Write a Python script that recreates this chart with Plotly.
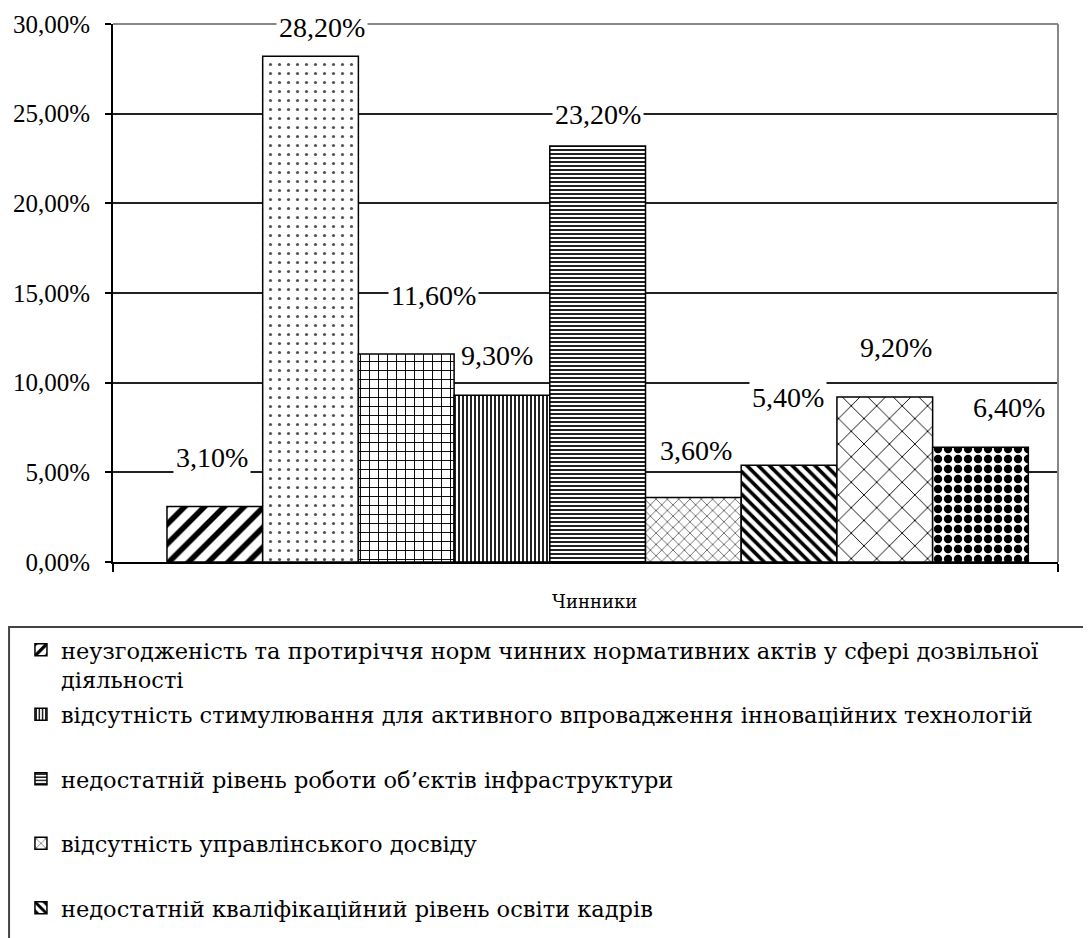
import plotly.graph_objects as go

# ---- data ----
values = [3.1, 28.2, 11.6, 9.3, 23.2, 3.6, 5.4, 9.2, 6.4]
names = [
    "неузгодженість та протиріччя норм чинних нормативних актів у сфері дозвільної<br>діяльності",
    "",
    "",
    "відсутність стимулювання для активного впровадження інноваційних технологій",
    "недостатній рівень роботи об’єктів інфраструктури",
    "відсутність управлінського досвіду",
    "недостатній кваліфікаційний рівень освіти кадрів",
    "",
    "",
]
in_legend = [True, False, False, True, True, True, True, False, False]
y_ticks = [0, 5, 10, 15, 20, 25, 30]
x_title = "Чинники"

# ---- styles ----
patterns = [
    dict(shape="/", size=14, solidity=0.4, fgcolor="black"),
    dict(shape=".", size=9, solidity=0.1, fgcolor="#555"),
    dict(shape="+", size=9, solidity=0.2, fgcolor="black"),
    dict(shape="|", size=4, solidity=0.5, fgcolor="#222"),
    dict(shape="-", size=4, solidity=0.5, fgcolor="#222"),
    dict(shape="x", size=8, solidity=0.15, fgcolor="#222"),
    dict(shape="\\", size=8, solidity=0.45, fgcolor="black"),
    dict(shape="x", size=18, solidity=0.1, fgcolor="black"),
    dict(shape=".", size=10, solidity=0.55, fgcolor="black"),
]
label_yshift = [49, 29, 58, 40, 31, 47, 68, 50, 40]
label_xshift = [-3, 11, 27, -5, 0, 3, -1, 11, 29]
SERIF = "serif"            # digits (Times-like metrics)
CYR_SERIF = "DejaVu Serif"  # serif face that carries Cyrillic


def legend_text(nm):
    # every legend entry occupies two text lines
    return nm if "<br>" in nm else nm + "<br>\u00a0"


fig = go.Figure()
for i, (v, nm) in enumerate(zip(values, names)):
    fig.add_trace(go.Bar(
        x=[i], y=[v], width=1, name=legend_text(nm) if in_legend[i] else nm,
        showlegend=in_legend[i], legendgroup=f"g{i}",
        marker=dict(color="white", opacity=1, line=dict(color="black", width=1.5),
                    pattern=dict(bgcolor="white", fgopacity=1, **patterns[i])),
        hoverinfo="skip",
    ))

annotations = []
for i, v in enumerate(values):
    annotations.append(dict(
        x=i, y=v, xref="x", yref="y",
        text=f"{v:.2f}".replace(".", ",") + "%",
        showarrow=False, yanchor="middle", xanchor="center",
        yshift=label_yshift[i], xshift=label_xshift[i],
        font=dict(family=SERIF, size=28, color="black"),
        bgcolor="white", borderpad=2,
    ))
annotations.append(dict(
    x=0.51, y=-0.074, xref="paper", yref="paper", text=x_title,
    showarrow=False, yanchor="middle", xanchor="center",
    font=dict(family=CYR_SERIF, size=18, color="black"),
))

xr = [-1.064, 8.81]
fig.update_layout(
    width=1083, height=930, autosize=False,
    margin=dict(l=105, r=33, t=16, b=376, autoexpand=False),
    paper_bgcolor="white", plot_bgcolor="white",
    barmode="overlay",
    font=dict(family=SERIF, color="black"),
    annotations=annotations,
    showlegend=True,
    legend=dict(
        x=-0.0974, y=-0.124, xanchor="left", yanchor="top",
        font=dict(family=CYR_SERIF, size=22.5, color="black"),
        traceorder="grouped", tracegroupgap=3, valign="top",
        borderwidth=0, bgcolor="rgba(0,0,0,0)",
    ),
    shapes=[
        dict(type="line", xref="paper", yref="paper", x0=0, x1=1, y0=1, y1=1,
             line=dict(color="#888", width=2), layer="above"),
        dict(type="line", xref="paper", yref="paper", x0=1, x1=1, y0=0, y1=1,
             line=dict(color="#888", width=2), layer="above"),
        dict(type="rect", xref="paper", yref="paper",
             x0=-0.110, x1=1.04, y0=-0.121, y1=-0.75,
             line=dict(color="#444", width=2), fillcolor="rgba(0,0,0,0)", layer="below"),
    ],
)
fig.update_xaxes(
    range=xr, showgrid=False, zeroline=False,
    showline=True, linecolor="black", linewidth=2,
    tickvals=xr, ticks="outside", ticklen=8, tickcolor="black", tickwidth=2,
    showticklabels=False,
)
fig.update_yaxes(
    range=[0, 30], tickvals=y_ticks,
    ticktext=[f"{t:.2f}".replace(".", ",") + "%" for t in y_ticks],
    showgrid=True, gridcolor="#222", gridwidth=2, zeroline=False,
    showline=True, linecolor="black", linewidth=2,
    ticks="outside", ticklen=6, tickcolor="black", tickwidth=2,
    ticklabelstandoff=10,
    tickfont=dict(family=SERIF, size=25, color="black"),
)
fig.write_html("out.html")
